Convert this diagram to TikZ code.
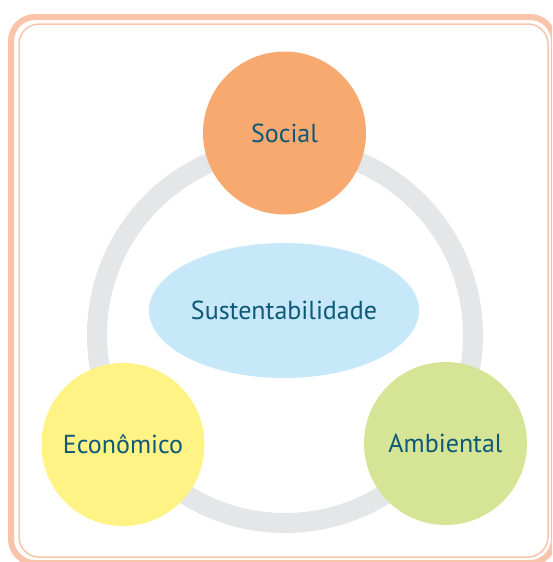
\documentclass[tikz,border=0pt]{standalone}
\usepackage{fontspec}
\setmainfont{PT Sans}
\usetikzlibrary{shapes.geometric}
\definecolor{moldura}{HTML}{F9C4AA}
\definecolor{anel}{HTML}{E5E6E8}
\definecolor{laranja}{HTML}{F7A970}
\definecolor{amarelo}{HTML}{FFF386}
\definecolor{verde}{HTML}{D6E496}
\definecolor{azulclaro}{HTML}{C6E8F8}
\definecolor{texto}{HTML}{0E5878}
\tikzset{
  bola/.style = {circle, minimum size = 163pt, inner sep = 0pt, text = texto,
    font = \fontsize{26}{30}\selectfont},
}

\begin{document}
\begin{tikzpicture}[x = 1pt, y = -1pt, line width = 1pt]
\useasboundingbox (0, 0) rectangle (552, 562);
\clip (0, 0) rectangle (552, 562);
% moldura
\draw[moldura, line width = 6pt, rounded corners = 24pt] (11, 17) rectangle (554, 563);
\draw[moldura, line width = 1.5pt, rounded corners = 20pt] (19, 24) rectangle (548, 557);
% anel
\draw[anel, line width = 20pt] (285, 335) circle (188pt);
\node[ellipse, fill = azulclaro, minimum width = 270pt, minimum height = 135pt, inner sep = 0pt,
  text = texto, font = \fontsize{26}{30}\selectfont] (sust) at (284, 310.5) {Sustentabilidade};
\node[bola, fill = laranja] (social) at (284.5, 133) {Social};
\node[bola, fill = amarelo] (economico) at (123, 444.5) {Econômico};
\node[bola, fill = verde] (ambiental) at (445.5, 443.5) {Ambiental};
\end{tikzpicture}
\end{document}
